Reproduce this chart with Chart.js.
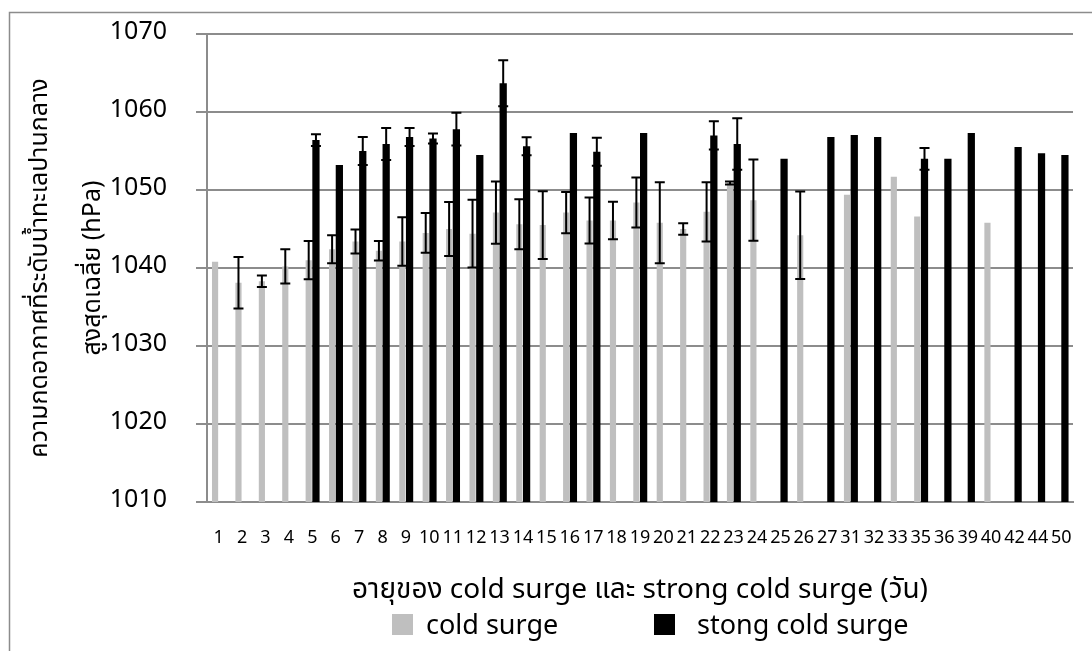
<!DOCTYPE html>
<html><head><meta charset="utf-8">
<script src="https://cdn.jsdelivr.net/npm/chart.js@4.4.1/dist/chart.umd.min.js"></script>
<style>html,body{margin:0;padding:0;background:#fff;overflow:hidden}</style>
</head><body>
<canvas id="c" width="1092" height="651"></canvas>
<script>
const categories = ['1','2','3','4','5','6','7','8','9','10','11','12','13','14','15','16','17','18','19','20','21','22','23','24','25','26','27','31','32','33','35','36','39','40','42','44','50'];
const coldSurgeMean = [1040.8,1038.1,1038.3,1040.2,1041.0,1042.4,1043.4,1042.2,1043.4,1044.5,1045.0,1044.4,1047.1,1045.6,1045.5,1047.1,1046.1,1046.1,1048.4,1045.8,1045.0,1047.2,1050.9,1048.7,null,1044.2,null,1049.4,null,1051.7,1046.6,null,null,1045.8,null,null,null];
const coldSurgeSD = [null,3.3,0.75,2.2,2.45,1.8,1.55,1.25,3.1,2.55,3.45,4.35,4.0,3.2,4.35,2.65,2.95,2.4,3.2,5.2,0.75,3.8,0.2,5.2,null,5.6,null,null,null,null,null,null,null,null,null,null,null];
const strongSurgeMean = [null,null,null,null,1056.4,1053.2,1055.0,1055.9,1056.8,1056.6,1057.8,1054.5,1063.7,1055.6,null,1057.3,1054.9,null,1057.3,null,null,1057.0,1055.9,null,1054.0,null,1056.8,1057.05,1056.8,null,1054.0,1054.0,1057.3,null,1055.5,1054.7,1054.5];
const strongSurgeSD = [null,null,null,null,0.75,null,1.8,2.05,1.15,0.65,2.1,null,2.95,1.15,null,null,1.8,null,null,null,null,1.8,3.3,null,null,null,null,null,null,null,1.4,null,null,null,null,null,null];
const yMin = 1010, yMax = 1070, yStep = 10;
const seriesNames = ['cold surge', 'stong cold surge'];
const seriesColors = ['#bfbfbf', '#000000'];
const yTitleLines = ['ความกดอากาศที่ระดับน้ำทะเลปานกลาง', 'สูงสุดเฉลี่ย (hPa)'];
const xTitle = 'อายุของ cold surge และ strong cold surge (วัน)';

const FONT = "'Noto Sans Thai','Noto Sans','Open Sans','DejaVu Sans',sans-serif";
const GRID = '#8c8c8c';

const frame = {
  id: 'frame',
  beforeDraw(chart) {
    const ctx = chart.ctx;
    ctx.save();
    ctx.fillStyle = '#fff';
    ctx.fillRect(0, 0, chart.width, chart.height);
    ctx.strokeStyle = '#8c8c8c';
    ctx.lineWidth = 1.5;
    ctx.strokeRect(9.5, 12.5, 3000, 3000);
    ctx.restore();
  }
};

const errorBars = {
  id: 'errorBars',
  afterDatasetsDraw(chart) {
    const ctx = chart.ctx;
    const y = chart.scales.y;
    ctx.save();
    ctx.strokeStyle = '#000';
    ctx.lineWidth = 2;
    chart.data.datasets.forEach((ds, i) => {
      const meta = chart.getDatasetMeta(i);
      meta.data.forEach((el, j) => {
        const m = ds.data[j], e = ds.errors[j];
        if (m == null || e == null) return;
        const x = el.x;
        const yt = y.getPixelForValue(m + e), yb = y.getPixelForValue(m - e);
        const hw = 5;
        ctx.beginPath();
        ctx.moveTo(x, yt); ctx.lineTo(x, yb);
        ctx.moveTo(x - hw, yt); ctx.lineTo(x + hw, yt);
        ctx.moveTo(x - hw, yb); ctx.lineTo(x + hw, yb);
        ctx.stroke();
      });
    });
    ctx.restore();
  }
};

const customLegend = {
  id: 'customLegend',
  afterDraw(chart) {
    const ctx = chart.ctx;
    const pos = [{box: 392, text: 426}, {box: 654, text: 697}];
    const cy = 629;
    ctx.save();
    ctx.font = "27px " + FONT;
    ctx.textBaseline = 'middle';
    ctx.textAlign = 'left';
    chart.data.datasets.forEach((ds, i) => {
      ctx.fillStyle = ds.backgroundColor;
      ctx.fillRect(pos[i].box, 614, 21, 21);
      ctx.fillStyle = '#000';
      ctx.fillText(ds.label, pos[i].text, cy);
    });
    ctx.restore();
  }
};

new Chart(document.getElementById('c'), {
  type: 'bar',
  data: {
    labels: categories,
    datasets: [
      { label: seriesNames[0], data: coldSurgeMean, errors: coldSurgeSD, backgroundColor: seriesColors[0], barPercentage: 0.85, categoryPercentage: 0.62 },
      { label: seriesNames[1], data: strongSurgeMean, errors: strongSurgeSD, backgroundColor: seriesColors[1], barPercentage: 1.0, categoryPercentage: 0.62 }
    ]
  },
  options: {
    responsive: false,
    animation: false,
    layout: { padding: { left: 0, top: 34, right: 19, bottom: 0 } },
    plugins: { legend: { display: false }, tooltip: { enabled: false } },
    scales: {
      x: {
        grid: { display: false, drawTicks: false },
        border: { display: true, color: GRID, width: 2 },
        ticks: { autoSkip: false, maxRotation: 0, minRotation: 0, padding: 27, color: '#000', font: { family: FONT, size: 18 } },
        title: { display: true, text: xTitle, color: '#000', font: { family: FONT, size: 28, lineHeight: 1.2 }, padding: { top: 0, bottom: 42 } },
        afterFit(s) { s.height = 149; s.paddingLeft = 0; s.paddingRight = 0; }
      },
      y: {
        min: yMin, max: yMax,
        ticks: { stepSize: yStep, padding: 29, color: '#000', font: { family: FONT, size: 25 }, callback: v => String(v) },
        grid: { color: GRID, lineWidth: 2, tickLength: 11, drawTicks: true },
        border: { display: true, color: GRID, width: 2 },
        title: { display: true, text: yTitleLines, color: '#000', font: { family: FONT, size: 25, lineHeight: 2.12 }, padding: { top: 15.5, bottom: 0 } },
        afterFit(s) { s.width = 207; s.paddingTop = 0; s.paddingBottom = 0; }
      }
    }
  },
  plugins: [frame, errorBars, customLegend]
});
</script>
</body></html>
